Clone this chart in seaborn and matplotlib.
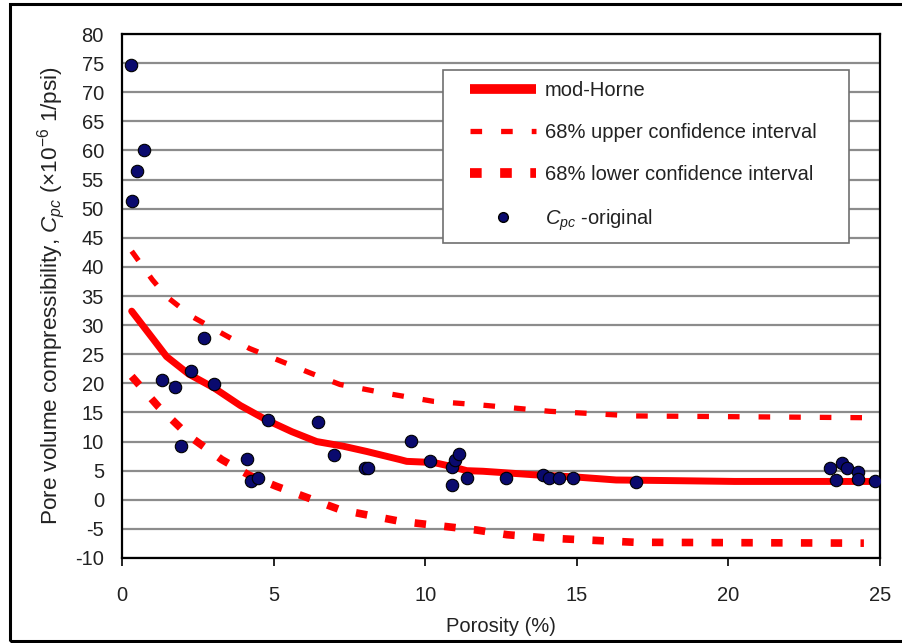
import matplotlib
matplotlib.use("Agg")
import matplotlib.pyplot as plt
import seaborn as sns
import pandas as pd
from matplotlib.lines import Line2D
from matplotlib.patches import Rectangle

# ---- data ----
pts_x = [0.30, 0.50, 0.73, 0.34, 1.31, 1.75, 1.95, 2.27, 2.72, 3.04, 4.11, 4.25, 4.50,
         4.83, 6.48, 7.00, 8.02, 8.13, 9.53, 10.17, 10.88, 10.99, 11.12, 10.90, 11.37,
         12.66, 13.88, 14.10, 14.40, 14.86, 16.96, 23.34, 23.56, 23.76, 23.90, 24.28,
         24.28, 24.85]
pts_y = [74.7, 56.4, 60.0, 51.4, 20.5, 19.4, 9.3, 22.2, 27.8, 19.8, 7.0, 3.3, 3.8,
         13.7, 13.3, 7.7, 5.4, 5.4, 10.1, 6.6, 5.7, 6.9, 7.9, 2.6, 3.8,
         3.8, 4.2, 3.8, 3.8, 3.8, 3.0, 5.4, 3.4, 6.3, 5.4, 4.7,
         3.6, 3.3]

horne_x = [0.32, 1.0, 1.47, 2.2, 3.04, 3.9, 4.77, 5.6, 6.42, 7.3, 8.07, 9.17, 9.39,
           10.28, 10.8, 11.37, 11.9, 12.47, 13.57, 15.0, 16.3, 18.0, 20.2, 24.9]
horne_y = [32.4, 27.8, 24.6, 21.6, 19.2, 16.2, 13.7, 11.7, 10.0, 9.2, 8.3, 6.9, 6.6,
           6.4, 5.8, 5.0, 4.9, 4.7, 4.3, 3.9, 3.4, 3.3, 3.15, 3.15]

upper_x = [0.32, 1.0, 1.47, 2.3, 3.29, 4.2, 5.1, 6.2, 7.19, 8.7, 10.28, 11.8, 14.1,
           16.9, 24.47]
upper_y = [42.7, 37.8, 34.9, 31.5, 28.6, 26.0, 24.1, 21.8, 19.8, 18.3, 16.9, 16.3, 15.2,
           14.4, 14.1]

lower_x = [0.32, 1.2, 2.2, 3.29, 4.2, 5.1, 6.2, 7.19, 9.17, 11.7, 12.7, 14.1, 16.9, 24.47]
lower_y = [21.2, 16.0, 11.0, 6.9, 4.2, 2.3, 0.2, -1.7, -3.7, -5.2, -6.0, -6.6, -7.3, -7.45]

x_ticks = [0, 5, 10, 15, 20, 25]
y_ticks = list(range(-10, 85, 5))

sns.set_theme(style="white")
plt.rcParams['font.family'] = ['Liberation Sans', 'DejaVu Sans']
plt.rcParams['mathtext.fontset'] = 'custom'
plt.rcParams['mathtext.rm'] = 'Liberation Sans'
plt.rcParams['mathtext.it'] = 'Liberation Sans:italic'

fig = plt.figure(figsize=(9.03, 6.43), dpi=100)
ax = fig.add_axes([0.1351, 0.1322, 0.8394, 0.8149])

RED = "#ff0000"
df_h = pd.DataFrame({"x": horne_x, "y": horne_y})
df_u = pd.DataFrame({"x": upper_x, "y": upper_y})
df_l = pd.DataFrame({"x": lower_x, "y": lower_y})
df_p = pd.DataFrame({"x": pts_x, "y": pts_y})

for yv in y_ticks:
    ax.axhline(yv, color="#8c8c8c", lw=1.6, zorder=0.5)

sns.lineplot(data=df_h, x="x", y="y", sort=False, estimator=None, ax=ax,
             color=RED, lw=5, zorder=2)
sns.lineplot(data=df_u, x="x", y="y", sort=False, estimator=None, ax=ax,
             color=RED, lw=3.8, zorder=2, dashes=False)
sns.lineplot(data=df_l, x="x", y="y", sort=False, estimator=None, ax=ax,
             color=RED, lw=5.5, zorder=2, dashes=False)
lines = ax.get_lines()
lines[-2].set_dashes([2.2, 3.6])
lines[-2].set_dash_capstyle("butt")
lines[-1].set_dashes([1.5, 2.4])
lines[-1].set_dash_capstyle("butt")

sns.scatterplot(data=df_p, x="x", y="y", ax=ax, s=80, color="#0a0a6e",
                edgecolor="black", linewidth=0.8, zorder=3)

ax.set_xlim(0, 25)
ax.set_ylim(-10, 80)
ax.set_xticks(x_ticks)
ax.set_yticks(y_ticks)
ax.set_xticklabels([str(v) for v in x_ticks])
ax.set_yticklabels([str(v) for v in y_ticks])
ax.tick_params(axis="x", direction="out", length=6, width=1.2, color="black",
               pad=14, labelsize=14.5, labelcolor="#222222", bottom=True)
ax.tick_params(axis="y", direction="out", length=0, pad=13, labelsize=14.5,
               labelcolor="#222222", left=True)
for sp in ax.spines.values():
    sp.set_visible(True)
    sp.set_color("black")
    sp.set_linewidth(1.6)

ax.set_xlabel("Porosity (%)", fontsize=14.5, color="#222222", labelpad=9)
ax.set_ylabel(r"Pore volume compressibility, $C_{pc}$ (×10$^{-6}$ 1/psi)",
              fontsize=16.2, color="#222222", labelpad=6)

# legend frame drawn separately (reference has wide right margin)
ax.add_patch(Rectangle((0.4235, 0.601), 0.5355, 0.330, transform=ax.transAxes,
                       facecolor="white", edgecolor="#707070", lw=1.2, zorder=4))

handles = [
    Line2D([], [], color=RED, lw=7, solid_capstyle="butt"),
    Line2D([], [], color=RED, lw=3.8, dashes=[2.2, 3.6], dash_capstyle="butt"),
    Line2D([], [], color=RED, lw=7, dashes=[1.2, 1.9], dash_capstyle="butt"),
    Line2D([], [], marker="o", ls="none", color="#0a0a6e", markeredgecolor="black",
           markersize=7),
]
labels = ["mod-Horne", "68% upper confidence interval", "68% lower confidence interval",
          r"$C_{pc}$ -original"]
leg = ax.legend(handles, labels, loc="upper left", bbox_to_anchor=(0.4585, 0.9095),
                frameon=False, fontsize=14.5, handlelength=3.3, handletextpad=0.45,
                labelspacing=1.14, borderpad=0, borderaxespad=0)
leg.set_zorder(5)
for t in leg.get_texts():
    t.set_color("#222222")

# outer frame: left, top and bottom edges (right edge lies beyond the image)
fig.patches.append(Rectangle((0.011, 0.0031), 1.0, 0.9907, transform=fig.transFigure,
                             fill=False, edgecolor="black", lw=2.2))

fig.savefig("out.png", dpi=100)
